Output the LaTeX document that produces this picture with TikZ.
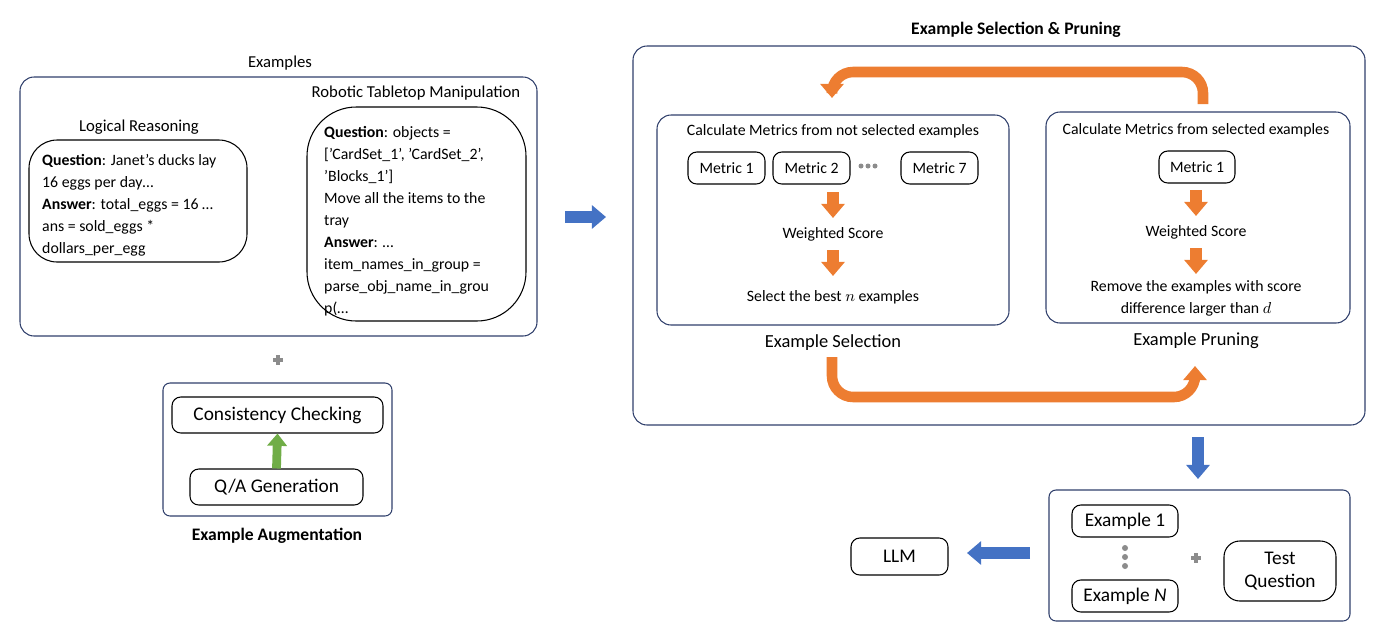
\documentclass[tikz,border=0pt]{standalone}
\usepackage{fontspec}
\setmainfont{Carlito}
\usetikzlibrary{arrows.meta}
\definecolor{frame}{HTML}{2F3F6B}
\definecolor{myorange}{HTML}{ED7D31}
\definecolor{myblue}{HTML}{4472C4}
\definecolor{mygreen}{HTML}{70AD47}
\definecolor{mygrey}{HTML}{8C8C8C}
\tikzset{
  panel/.style={draw=frame, rounded corners=8pt, line width=0.6pt},
  box/.style={draw, rounded corners=5pt, line width=0.6pt},
  txt/.style={font=\fontsize{9}{12.5}\selectfont},
  ttl/.style={font=\fontsize{9.5}{12}\selectfont},
  big/.style={font=\fontsize{11}{13}\selectfont},
  blockarr/.style={line width=6.5pt, -{Triangle[width=13pt,length=8pt]}},
  loop/.style={line width=6pt, myorange, rounded corners=12pt, -{Triangle[width=13pt,length=8pt]}},
}
\newcommand{\plussign}[1]{%
  \fill[mygrey] ($(#1)+(-5,-1.8)$) rectangle ($(#1)+(5,1.8)$);
  \fill[mygrey] ($(#1)+(-1.8,-5)$) rectangle ($(#1)+(1.8,5)$);}
\usetikzlibrary{calc}
\begin{document}
\begin{tikzpicture}[x=0.02cm, y=-0.02cm]
  \useasboundingbox (0,0) rectangle (1382,643);
  % examples
  \node[ttl] (exlab) at (280,63) {Examples};
  \draw[panel] (20,77) rectangle (537,336);
  \node[ttl] (loglab) at (139,127) {Logical Reasoning};
  \draw[box, rounded corners=16pt] (29,140) rectangle (247,262);
  \node[txt, align=left, anchor=north west] (logtxt) at (36,148) {\textbf{Question}: Janet’s ducks lay\\16 eggs per day\dots\\\textbf{Answer}: total\_eggs = 16 \dots\\ans = sold\_eggs *\\dollars\_per\_egg};
  \node[ttl] (roblab) at (416,93) {Robotic Tabletop Manipulation};
  \draw[box, rounded corners=28pt] (307,107) rectangle (526,321);
  \node[txt, align=left, anchor=north west] (robtxt) at (318,120) {\textbf{Question}: objects =\\{}['CardSet\_1', 'CardSet\_2',\\'Blocks\_1’]\\Move all the items to the\\tray\\\textbf{Answer}: \dots\\item\_names\_in\_group =\\parse\_obj\_name\_in\_grou\\p(\dots};
  \coordinate (plusA) at (278,360);
  \plussign{plusA}
  % augmentation
  \draw[panel, rounded corners=4pt] (163,383) rectangle (392,516);
  \node[box, big, minimum width=211*0.02cm, minimum height=36*0.02cm] (cons) at (277.5,415) {Consistency Checking};
  \node[box, big, minimum width=173*0.02cm, minimum height=36*0.02cm] (qa) at (276.5,487) {Q/A Generation};
  \draw[blockarr, mygreen, line width=5pt, -{Triangle[width=11pt,length=7pt]}] (qa.north) -- (cons.south);
  \node[ttl, font=\fontsize{10}{12}\selectfont\bfseries] (auglab) at (277,536) {Example Augmentation};
  % blue arrow to selection
  \coordinate (b1) at (565,217);
  \coordinate (b2) at (606,217);
  \draw[blockarr, myblue] (b1) -- (b2);
  % selection & pruning
  \node[ttl, font=\fontsize{10}{12}\selectfont\bfseries] (sptitle) at (1016,30) {Example Selection \& Pruning};
  \draw[panel] (633,46) rectangle (1365,425);
  \draw[panel] (657,115) rectangle (1009,325);
  \node[txt] (seltop) at (833,131) {Calculate Metrics from not selected examples};
  \node[box, txt, minimum width=77*0.02cm, minimum height=32*0.02cm] (m1) at (726.5,168) {Metric 1};
  \node[box, txt, minimum width=77*0.02cm, minimum height=32*0.02cm] (m2) at (811.5,168) {Metric 2};
  \node[box, txt, minimum width=77*0.02cm, minimum height=32*0.02cm] (m7) at (939.5,168) {Metric 7};
  \foreach \dx in {-7,0,7} \fill[mygrey] (868+\dx,166) circle (2.5);
  \node[txt] (selws) at (833,234) {Weighted Score};
  \node[txt] (selbest) at (833,297) {Select the best $n$ examples};
  \draw[blockarr, myorange] (833,192) -- (833,218);
  \draw[blockarr, myorange] (833,250) -- (833,276);
  \node[big, font=\fontsize{10.5}{12}\selectfont] (sellab) at (833,343) {Example Selection};
  \draw[panel] (1046,112) rectangle (1350,323);
  \node[txt] (prtop) at (1196,130) {Calculate Metrics from selected examples};
  \node[box, txt, minimum width=76*0.02cm, minimum height=32*0.02cm] (pm1) at (1197,167) {Metric 1};
  \node[txt] (prws) at (1196,232) {Weighted Score};
  \node[txt, align=center] (prrem) at (1196,298) {Remove the examples with score\\difference larger than $d$};
  \draw[blockarr, myorange] (1196,190) -- (1196,216);
  \draw[blockarr, myorange] (1196,248) -- (1196,274);
  \node[big, font=\fontsize{10.5}{12}\selectfont] (prlab) at (1196,341) {Example Pruning};
  % loops
  \draw[loop] (1203,104) -- (1203,72) -- (832,72) -- (832,98);
  \draw[loop] (832,357) -- (832,397) -- (1195,397) -- (1195,366);
  % down to final prompt
  \draw[blockarr, myblue] (1198,437) -- (1198,479);
  \draw[panel, rounded corners=4pt] (1049,490) rectangle (1350,621);
  \node[box, big, minimum width=106*0.02cm, minimum height=32*0.02cm] (e1) at (1125,521) {Example 1};
  \node[box, big, minimum width=106*0.02cm, minimum height=32*0.02cm] (eN) at (1125,596) {Example \textit{N}};
  \foreach \yy in {548,557,566} \fill[mygrey] (1125,\yy) circle (3);
  \coordinate (plusB) at (1196,558);
  \plussign{plusB}
  \node[box, big, align=center, rounded corners=9pt, minimum width=112*0.02cm, minimum height=60*0.02cm] (tq) at (1280,571) {Test\\Question};
  \node[box, big, minimum width=97*0.02cm, minimum height=37*0.02cm] (llm) at (899.5,556.5) {LLM};
  \coordinate (b3) at (1030,553);
  \coordinate (b4) at (967,553);
  \draw[blockarr, myblue] (b3) -- (b4);
\end{tikzpicture}
\end{document}
